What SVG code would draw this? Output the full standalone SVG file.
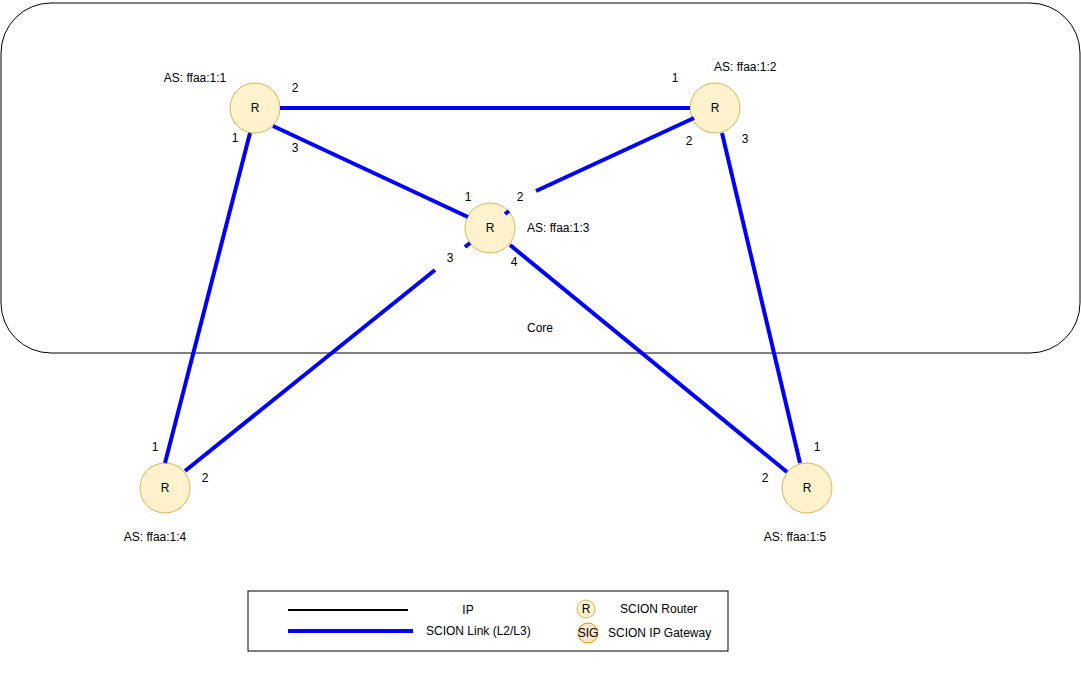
<svg xmlns="http://www.w3.org/2000/svg" width="1081" height="675" viewBox="0 0 1081 675">
<style>
text { font-family: "Liberation Sans", Arial, sans-serif; font-size: 12px; fill: #000; }
.mid { text-anchor: middle; }
.router { fill: #fff2cc; stroke: #d6b656; stroke-width: 1; }
.sig { fill: #ffe6cc; stroke: #d79b00; stroke-width: 1; }
.link { stroke: #0000ff; stroke-width: 4; fill: none; }
</style>
<rect width="1081" height="675" fill="#ffffff"/>
<g id="core">
<rect x="1" y="3" width="1079" height="350" rx="50" ry="50" fill="none" stroke="#000" stroke-width="1"/>
<text class="mid" x="540" y="332">Core</text>
</g>
<g id="node-ffaa-1-1">
<circle class="router" cx="255" cy="108" r="25"/>
<text class="mid" x="255" y="112">R</text>
<text class="mid" x="195" y="82">AS: ffaa:1:1</text>
<text class="mid" x="295" y="92">2</text>
<text class="mid" x="235" y="142">1</text>
<text class="mid" x="295" y="152">3</text>
</g>
<g id="node-ffaa-1-2">
<circle class="router" cx="715" cy="108" r="25"/>
<text class="mid" x="715" y="112">R</text>
<text x="714" y="71">AS: ffaa:1:2</text>
<text class="mid" x="675" y="82">1</text>
<text class="mid" x="689" y="145">2</text>
<text class="mid" x="745" y="143">3</text>
</g>
<g id="node-ffaa-1-3">
<circle class="router" cx="490" cy="228" r="25"/>
<text class="mid" x="490" y="232">R</text>
<text x="527" y="232">AS: ffaa:1:3</text>
<text class="mid" x="468" y="201">1</text>
<text class="mid" x="520" y="201">2</text>
<text class="mid" x="450" y="262">3</text>
<text class="mid" x="514" y="266">4</text>
</g>
<g id="node-ffaa-1-4">
<circle class="router" cx="165" cy="488" r="25"/>
<text class="mid" x="165" y="492">R</text>
<text class="mid" x="155" y="541">AS: ffaa:1:4</text>
<text class="mid" x="155" y="451">1</text>
<text class="mid" x="205" y="482">2</text>
</g>
<g id="node-ffaa-1-5">
<circle class="router" cx="807" cy="488" r="25"/>
<text class="mid" x="807" y="492">R</text>
<text class="mid" x="795" y="541">AS: ffaa:1:5</text>
<text class="mid" x="817" y="451">1</text>
<text class="mid" x="765" y="482">2</text>
</g>
<g id="connectors">
<line class="link" x1="280" y1="108" x2="690" y2="108"/>
<line class="link" x1="273" y1="126" x2="468" y2="217"/>
<line class="link" x1="250" y1="133" x2="165" y2="463"/>
<line class="link" x1="694" y1="118" x2="536" y2="191"/>
<line class="link" x1="505" y1="214" x2="509" y2="211"/>
<line class="link" x1="470" y1="243" x2="465" y2="247"/>
<line class="link" x1="435" y1="270" x2="185" y2="471"/>
<line class="link" x1="510" y1="245" x2="787" y2="472"/>
<line class="link" x1="722" y1="133" x2="800" y2="463"/>
</g>
<g id="legend">
<rect x="248" y="591" width="480" height="60" fill="#fff" stroke="#000" stroke-width="1"/>
<line x1="288" y1="610" x2="408" y2="610" stroke="#000" stroke-width="2"/>
<text class="mid" x="468" y="614">IP</text>
<line class="link" x1="288" y1="631" x2="413" y2="631"/>
<text x="426" y="635">SCION Link (L2/L3)</text>
<circle class="router" cx="586" cy="609" r="9"/>
<text class="mid" x="586" y="613">R</text>
<text x="620" y="613">SCION Router</text>
<circle class="sig" cx="588" cy="633" r="10"/>
<text class="mid" x="588" y="637">SIG</text>
<text x="608" y="637">SCION IP Gateway</text>
</g>
</svg>
